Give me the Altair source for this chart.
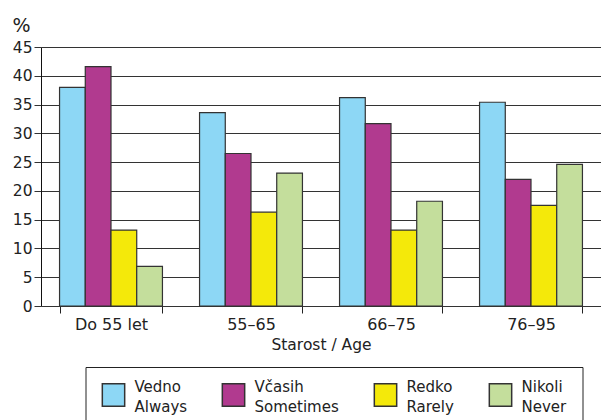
import altair as alt
import pandas as pd

# Age groups on the x axis
ages = ["Do 55 let", "55–65", "66–75", "76–95"]

# Answer categories (Slovene | English), shown on two lines in the legend
answers = ["Vedno|Always", "Včasih|Sometimes", "Redko|Rarely", "Nikoli|Never"]
colors = ["#8DD7F5", "#B13A8F", "#F4E90A", "#C4DE9C"]

# Share of respondents (%) per age group, one list per answer
vedno = [38.0, 33.6, 36.2, 35.4]
vcasih = [41.6, 26.5, 31.7, 22.0]
redko = [13.2, 16.3, 13.2, 17.5]
nikoli = [6.9, 23.1, 18.2, 24.6]

series = [vedno, vcasih, redko, nikoli]
rows = []
for ans, vals in zip(answers, series):
    for age, v in zip(ages, vals):
        rows.append({"age": age, "answer": ans, "value": v})
df = pd.DataFrame(rows)

FONT = "DejaVu Sans"
INK = "#222222"

chart = (
    alt.Chart(df)
    .mark_bar(stroke="#333333", strokeWidth=1.2)
    .encode(
        x=alt.X(
            "age:N",
            sort=ages,
            title="Starost / Age",
            scale=alt.Scale(paddingInner=0.265, paddingOuter=0.1325),
            axis=alt.Axis(
                labelAngle=0,
                labelFontSize=16,
                labelColor=INK,
                labelPadding=3,
                labelBaseline="top",
                tickBand="extent",
                tickSize=7,
                tickColor=INK,
                domain=False,
                titleFontSize=15.5,
                titleFontWeight="normal",
                titleColor=INK,
                titlePadding=5,
            ),
        ),
        xOffset=alt.XOffset("answer:N", sort=answers, scale=alt.Scale(paddingInner=0, paddingOuter=0)),
        y=alt.Y(
            "value:Q",
            scale=alt.Scale(domain=[0, 45], nice=False),
            title="%",
            axis=alt.Axis(
                values=list(range(0, 50, 5)),
                labelFontSize=15.5,
                labelColor=INK,
                labelPadding=2,
                tickSize=7,
                tickColor="#333333",
                domainColor="#111111",
                grid=True,
                gridColor="#333333",
                gridWidth=1,
                titleAngle=0,
                titleAlign="left",
                titleBaseline="alphabetic",
                titleX=-29,
                titleY=-16,
                titleFontSize=19,
                titleFontWeight="normal",
                titleColor=INK,
            ),
        ),
        color=alt.Color(
            "answer:N",
            sort=answers,
            scale=alt.Scale(domain=answers, range=colors),
            legend=alt.Legend(
                title=None,
                orient="none",
                legendX=44.5,
                legendY=320,
                direction="horizontal",
                columns=4,
                symbolType="square",
                symbolSize=500,
                symbolStrokeColor="#333333",
                symbolStrokeWidth=1.5,
                labelExpr="split(datum.label, '|')",
                labelFontSize=15,
                labelColor=INK,
                labelBaseline="bottom",
                labelAlign="left",
                labelOffset=9,
                columnPadding=31,
                padding=16,
                strokeColor=INK,
                labelLimit=200,
            ),
        ),
    )
    .properties(width=560, height=259)
    .configure(font=FONT, style={"guide-label": {"lineHeight": 20}})
    .configure_view(stroke=None)
    .properties(padding={"left": 41, "top": 47, "right": 0, "bottom": 114})
)

chart = chart.properties(autosize=alt.AutoSizeParams(type="none"))

chart.save("out.html", embed_options={"renderer": "svg", "actions": False})
